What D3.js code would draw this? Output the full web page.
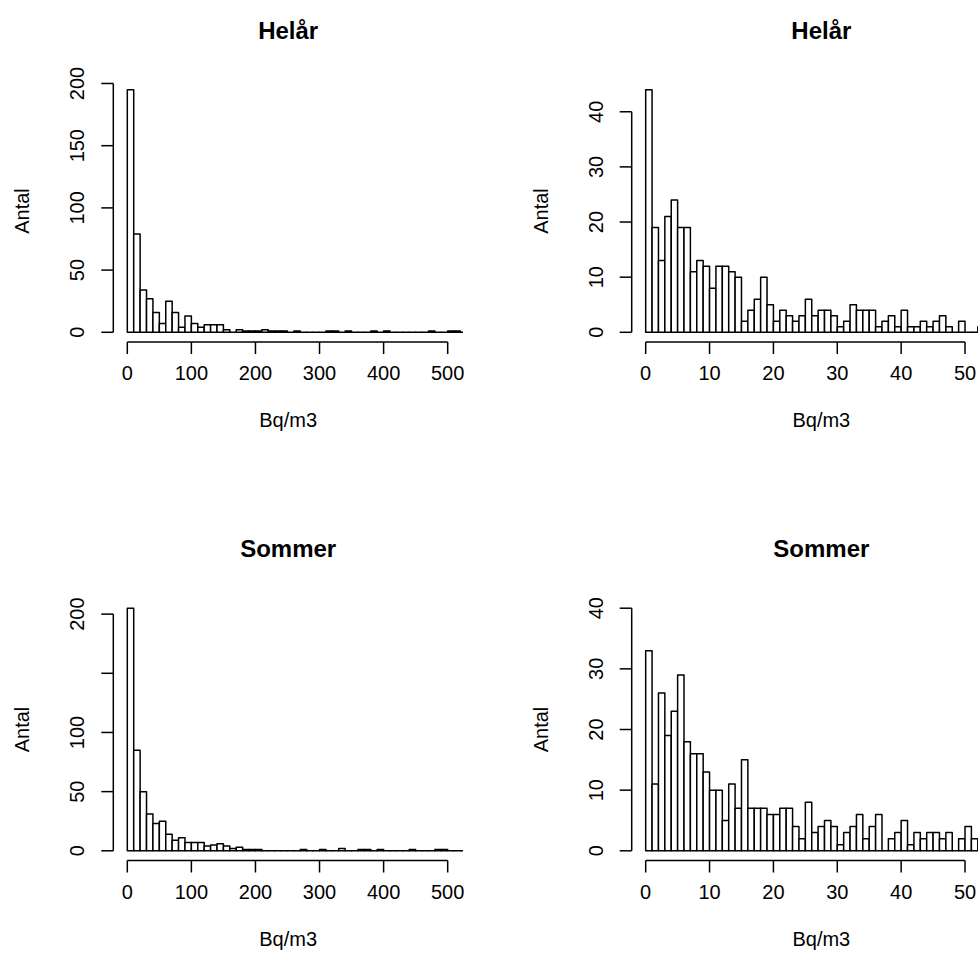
<!DOCTYPE html>
<html>
<head>
<meta charset="utf-8">
<script src="https://cdn.jsdelivr.net/npm/d3@7"></script>
<style>
  html, body { margin: 0; padding: 0; background: #fff; }
  svg { display: block; }
  text { font-family: "Liberation Sans", Arial, Helvetica, sans-serif; fill: #000; }
</style>
</head>
<body>
<script>
// ---- Data (counts per bin) ----
const titles = ["Helår", "Helår", "Sommer", "Sommer"];
const xTitle = "Bq/m3";
const yTitle = "Antal";

// bins of width 10 Bq/m3, starting at 0
const helaarAll = [195,79,34,27,16,7,25,16,4,13, 7,4,6,6,6,2,0,2,1,1, 1,2,1,1,1,0,1,0,0,0, 0,1,1,0,1,0,0,0,1,0, 1,0,0,0,0,0,0,1,0,0, 1,1,0];
// bins of width 1 Bq/m3, starting at 0
const helaarLow = [44,19,13,21,24,19,19,11,13,12, 8,12,12,11,10,2,4,6,10,5, 2,4,3,2,3,6,3,4,4,3, 1,2,5,4,4,4,1,2,3,1, 4,1,1,2,1,2,3,1,0,2, 0,0,1];
const sommerAll = [205,85,50,31,23,25,14,9,11,7, 7,7,4,5,6,4,2,3,1,1, 1,0,0,0,0,0,0,1,0,0, 1,0,0,2,0,0,1,1,0,1, 0,0,0,0,1,0,0,0,1,1, 0,0,0];
const sommerLow = [33,11,26,19,23,29,18,16,16,13, 10,10,5,11,7,15,7,7,7,6, 6,7,7,4,2,8,3,4,5,4, 1,3,4,6,2,4,6,0,2,3, 5,1,3,2,3,3,2,3,0,2, 4,2];

const binWidths = [10, 1, 10, 1];
const xTicksAll = [0,100,200,300,400,500];
const xTicksLow = [0,10,20,30,40,50];
const yTicksHelaarAll = [0,50,100,150,200];
const yLabelsHelaarAll = ["0","50","100","150","200"];
const yTicksSommerAll = [0,50,100,150,200];
const yLabelsSommerAll = ["0","50","100","","200"];
const yTicksLow = [0,10,20,30,40];
const yLabelsLow = ["0","10","20","30","40"];
const yMaxSommerLow = 40;

// ---- Layout ----
const W = 978, H = 977;
const svg = d3.select("body").append("svg").attr("width", W).attr("height", H);

const colX = [ {l:113.3, r:463, dom:[-21.85, 523.9]}, {l:631.7, r:1011, dom:[-2.19, 57.2]} ];
const rowY = [ {t:80, b:342}, {t:598.5, b:860.5} ];

const panels = [
  {title:titles[0], counts:helaarAll, bw:binWidths[0], col:0, row:0, xt:xTicksAll, yt:yTicksHelaarAll, yl:yLabelsHelaarAll, ymax:null},
  {title:titles[1], counts:helaarLow, bw:binWidths[1], col:1, row:0, xt:xTicksLow, yt:yTicksLow, yl:yLabelsLow, ymax:null},
  {title:titles[2], counts:sommerAll, bw:binWidths[2], col:0, row:1, xt:xTicksAll, yt:yTicksSommerAll, yl:yLabelsSommerAll, ymax:null},
  {title:titles[3], counts:sommerLow, bw:binWidths[3], col:1, row:1, xt:xTicksLow, yt:yTicksLow, yl:yLabelsLow, ymax:yMaxSommerLow},
];

const TICK = 12;
const FS = 20;
const SW = 1.5;

panels.forEach((p, i) => {
  const cx = colX[p.col], ry = rowY[p.row];
  const x = d3.scaleLinear().domain(cx.dom).range([cx.l, cx.r]);
  const M = p.ymax != null ? p.ymax : d3.max(p.counts);
  const y = d3.scaleLinear().domain([-0.04 * M, 1.04 * M]).range([ry.b, ry.t]);

  const g = svg.append("g");
  const clipId = "clip" + i;
  svg.append("clipPath").attr("id", clipId).append("rect")
    .attr("x", cx.l).attr("y", ry.t).attr("width", cx.r - cx.l).attr("height", ry.b - ry.t);

  // bars (zero-count bins still drawn as a baseline segment, like R)
  g.append("g").attr("clip-path", `url(#${clipId})`)
    .selectAll("path").data(p.counts).join("path")
    .attr("d", (d, k) => {
      const x0 = x(k * p.bw), x1 = x((k + 1) * p.bw), y0 = y(0), y1 = y(d);
      return `M${x0},${y0}V${y1}H${x1}V${y0}Z`;
    })
    .attr("fill", "#fff")
    .attr("stroke", "#000")
    .attr("stroke-width", SW)
    .attr("stroke-linejoin", "round");

  // x axis (R style)
  const xa = g.append("g");
  xa.append("line")
    .attr("x1", x(p.xt[0])).attr("x2", x(p.xt[p.xt.length - 1]))
    .attr("y1", ry.b).attr("y2", ry.b)
    .attr("stroke", "#000").attr("stroke-width", SW);
  xa.selectAll("line.t").data(p.xt).join("line").attr("class", "t")
    .attr("x1", d => x(d)).attr("x2", d => x(d))
    .attr("y1", ry.b).attr("y2", ry.b + TICK)
    .attr("stroke", "#000").attr("stroke-width", SW);
  xa.selectAll("text").data(p.xt).join("text")
    .attr("x", d => x(d)).attr("y", ry.b + 31)
    .attr("text-anchor", "middle").attr("dominant-baseline", "central")
    .attr("font-size", FS).text(d => d);

  // y axis
  const ya = g.append("g");
  ya.append("line")
    .attr("x1", cx.l).attr("x2", cx.l)
    .attr("y1", y(p.yt[0])).attr("y2", y(p.yt[p.yt.length - 1]))
    .attr("stroke", "#000").attr("stroke-width", SW);
  ya.selectAll("line.t").data(p.yt).join("line").attr("class", "t")
    .attr("x1", cx.l - TICK).attr("x2", cx.l)
    .attr("y1", d => y(d)).attr("y2", d => y(d))
    .attr("stroke", "#000").attr("stroke-width", SW);
  ya.selectAll("text").data(p.yt).join("text")
    .attr("transform", d => `translate(${cx.l - 36},${y(d)}) rotate(-90)`)
    .attr("text-anchor", "middle").attr("dominant-baseline", "central")
    .attr("font-size", FS).text((d, k) => p.yl[k]);

  // titles
  g.append("text")
    .attr("x", (cx.l + cx.r) / 2).attr("y", ry.t - 50)
    .attr("text-anchor", "middle").attr("dominant-baseline", "central")
    .attr("font-size", 24).attr("font-weight", "bold").text(p.title);
  g.append("text")
    .attr("x", (cx.l + cx.r) / 2).attr("y", ry.b + 78)
    .attr("text-anchor", "middle").attr("dominant-baseline", "central")
    .attr("font-size", FS).text(xTitle);
  g.append("text")
    .attr("transform", `translate(${cx.l - 91},${(ry.t + ry.b) / 2}) rotate(-90)`)
    .attr("text-anchor", "middle").attr("dominant-baseline", "central")
    .attr("font-size", FS).text(yTitle);
});
</script>
</body>
</html>
